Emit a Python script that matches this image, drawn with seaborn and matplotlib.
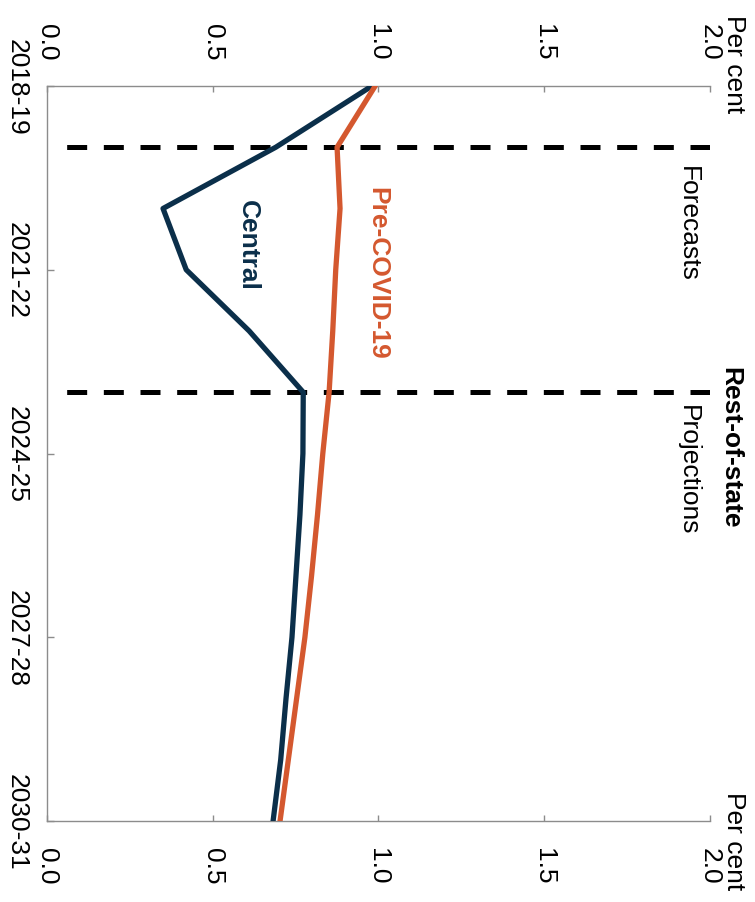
import matplotlib
matplotlib.use("Agg")
import matplotlib.pyplot as plt
import seaborn as sns
import pandas as pd

# ---- data ----
years = ["2018-19", "2019-20", "2020-21", "2021-22", "2022-23", "2023-24", "2024-25",
         "2025-26", "2026-27", "2027-28", "2028-29", "2029-30", "2030-31"]
central = [0.98, 0.69, 0.35, 0.42, 0.61, 0.773, 0.772, 0.763, 0.751, 0.739, 0.721, 0.705, 0.682]
pre_covid = [0.99, 0.875, 0.884, 0.871, 0.862, 0.851, 0.832, 0.816, 0.798, 0.778, 0.753, 0.728, 0.703]
tick_years = ["2018-19", "2021-22", "2024-25", "2027-28", "2030-31"]
value_ticks = [0.0, 0.5, 1.0, 1.5, 2.0]
divider_years = ["2019-20", "2023-24"]
title = "Rest-of-state"
unit = "Per cent"

NAVY = "#0B2F4A"
ORANGE = "#D4582F"
GREY = "#8C8C8C"

sns.set_theme(style="white")
plt.rcParams["font.family"] = ["Liberation Sans", "DejaVu Sans"]
plt.rcParams["text.color"] = "black"
plt.rcParams["xtick.color"] = "black"
plt.rcParams["ytick.color"] = "black"
FS = 19

idx = list(range(len(years)))
df = pd.DataFrame({
    "year_idx": idx * 2,
    "value": central + pre_covid,
    "series": ["Central"] * len(years) + ["Pre-COVID-19"] * len(years),
})

fig = plt.figure(figsize=(7.55, 9.03), dpi=100)
ax = fig.add_axes([47 / 755, 81 / 903, 663 / 755, 735 / 903])

# divider dashed lines (drawn from right edge leftwards)
for d in divider_years:
    yi = years.index(d)
    ax.plot([value_ticks[-1], value_ticks[0] + 0.048], [yi, yi], color="black",
            lw=3.6, dashes=(14.4 / 3.6, 12.0 / 3.6), solid_capstyle="butt",
            dash_capstyle="butt", zorder=1)

sns.lineplot(data=df, x="value", y="year_idx", hue="series", orient="y",
             estimator=None, sort=True, palette={"Central": NAVY, "Pre-COVID-19": ORANGE},
             lw=3.8, legend=False, ax=ax, zorder=3)

ax.set_xlim(value_ticks[0], value_ticks[-1])
ax.set_ylim(len(years) - 1, 0)
ax.set_xlabel("")
ax.set_ylabel("")

ax.set_xticks(value_ticks)
ax.set_xticklabels([f"{v:.1f}" for v in value_ticks])
ax.set_yticks([years.index(t) for t in tick_years])
ax.set_yticklabels(tick_years)

ax.tick_params(axis="x", which="both", top=True, bottom=True, labeltop=True,
               labelbottom=True, direction="in", length=4.3, width=1.0,
               color=GREY, labelsize=FS, labelcolor="black", pad=19,
               labelrotation=270)
ax.tick_params(axis="y", left=True, right=False, direction="in", length=5,
               width=1.0, color=GREY, labelsize=FS, labelcolor="black", pad=13,
               labelrotation=270)
for lab in ax.get_yticklabels():
    lab.set_va("center")

for side in ["top", "bottom", "left"]:
    ax.spines[side].set_color(GREY)
    ax.spines[side].set_linewidth(1.0)
ax.spines["right"].set_visible(False)

# annotations
ax.text(1.934, 2.24, "Forecasts", rotation=270, ha="center", va="center",
        fontsize=FS, color="black")
ax.text(1.934, 6.25, "Projections", rotation=270, ha="center", va="center",
        fontsize=FS, color="black")
ax.text(0.605, 2.58, "Central", rotation=270, ha="center", va="center",
        fontsize=FS, fontweight="bold", color=NAVY)
ax.text(0.995, 3.05, "Pre-COVID-19", rotation=270, ha="center", va="center",
        fontsize=FS, fontweight="bold", color=ORANGE)
ax.text(1.012, 0.509, title, rotation=270, ha="left", va="center",
        fontsize=FS, fontweight="bold", color="black",
        transform=ax.transAxes, clip_on=False)

fig.text(734 / 755, 1 - 15 / 903, unit, rotation=270, ha="center", va="top",
         fontsize=FS, color="black")
fig.text(734 / 755, 13 / 903, unit, rotation=270, ha="center", va="bottom",
         fontsize=FS, color="black")

fig.savefig("out.png", dpi=100)
